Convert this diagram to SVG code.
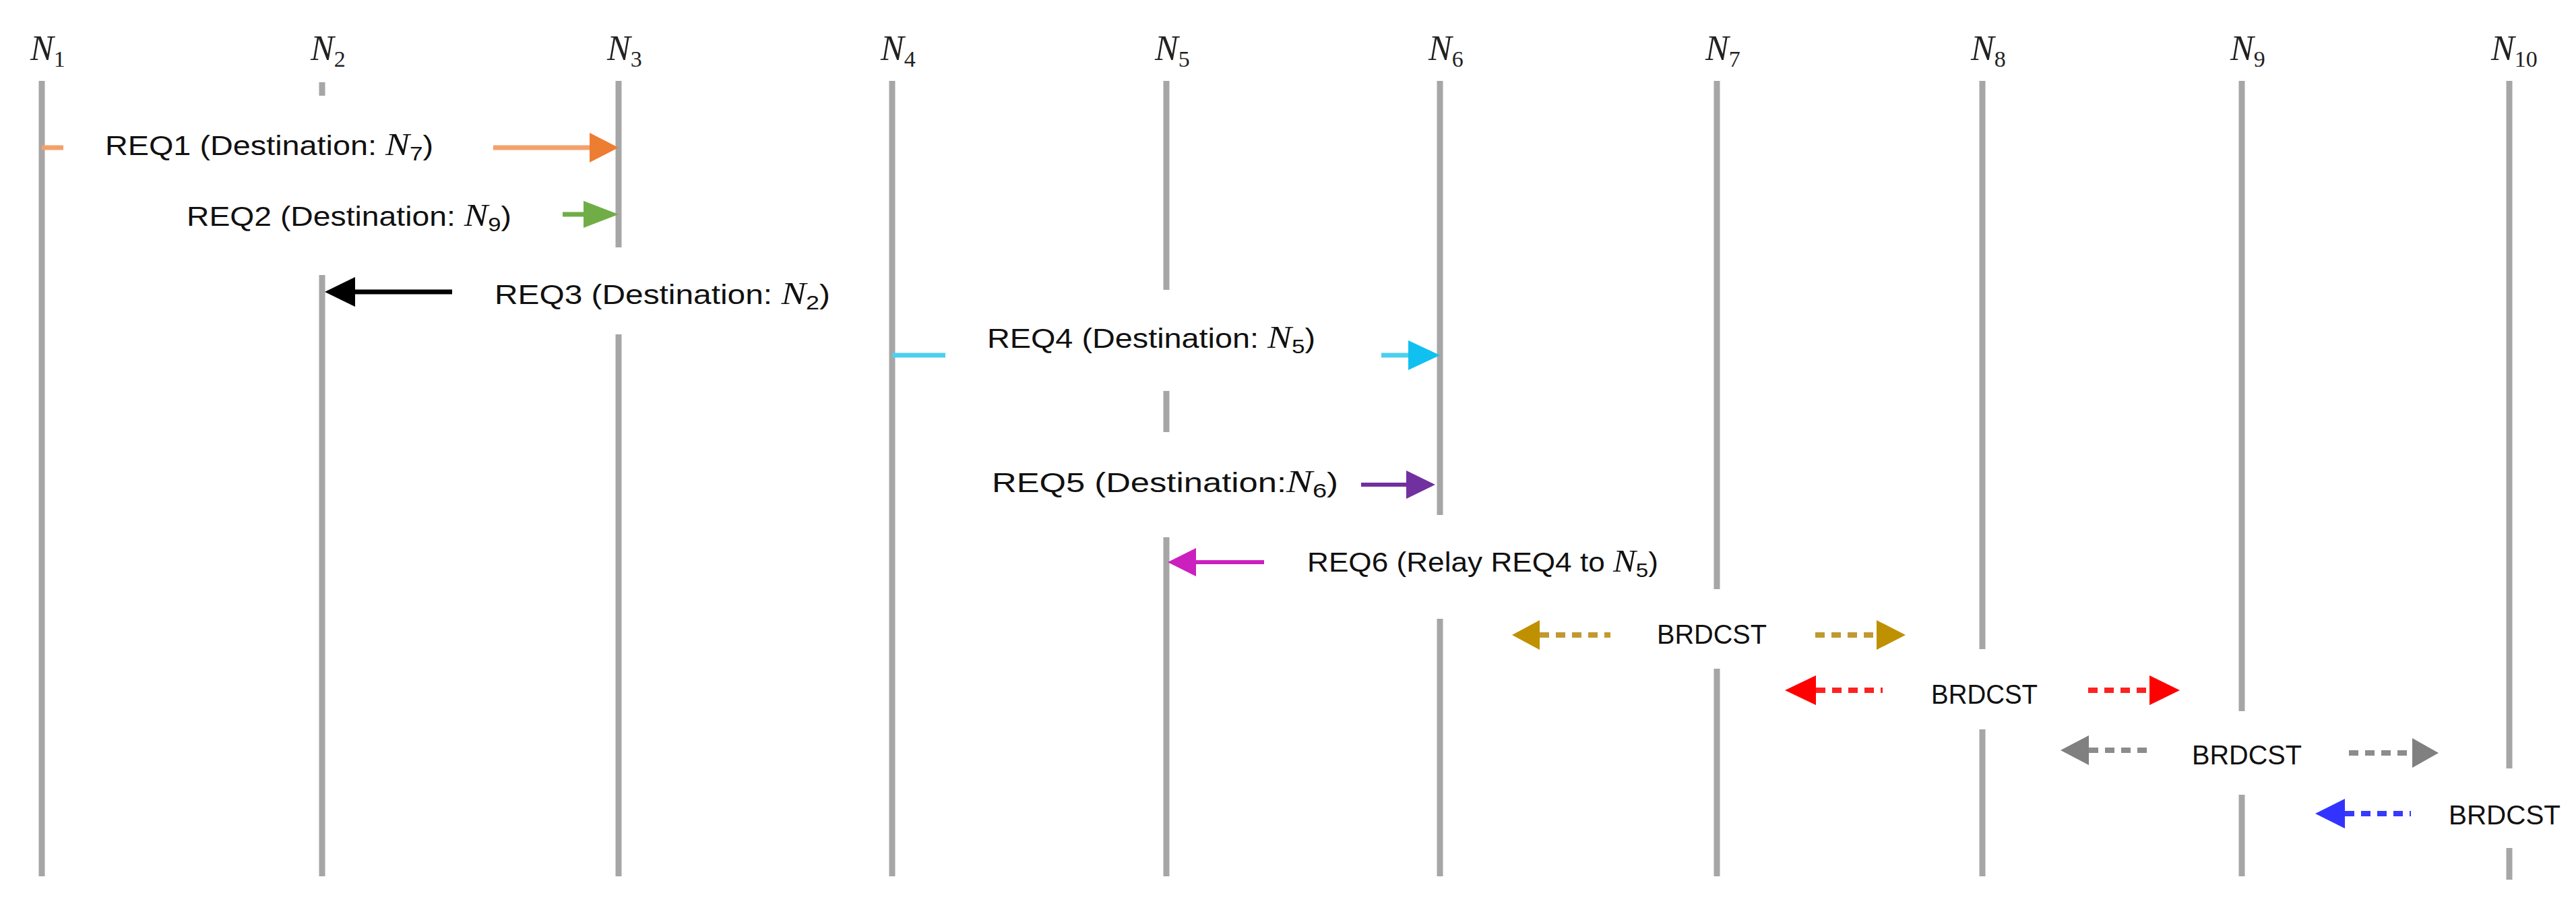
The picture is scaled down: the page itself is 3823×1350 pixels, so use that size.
<svg xmlns="http://www.w3.org/2000/svg" width="3823" height="1350" viewBox="0 0 3823 1350">
<style>
.lane{stroke:#A6A6A6;stroke-width:9;fill:none}
.t{font-family:"Liberation Sans",Arial,sans-serif;font-size:40px;fill:#111}
.n{font-family:"Liberation Serif","Times New Roman",serif;font-style:italic;font-size:46px}
.h{font-family:"Liberation Serif","Times New Roman",serif;font-style:italic;font-size:52px;fill:#222}
.s{font-size:30px}
.hs{font-size:34px;font-style:normal}
.dash{stroke-width:8;stroke-dasharray:14 10;fill:none}
</style>
<rect width="3823" height="1350" fill="#fff"/>
<g id="N1"><text class="h" x="45" y="89">N<tspan class="hs" dy="10">1</tspan></text><path class="lane" d="M62 120V1300"/></g>
<g id="N2"><text class="h" x="461" y="89">N<tspan class="hs" dy="10">2</tspan></text><path class="lane" d="M478 122V142M478 408V1300"/></g>
<g id="N3"><text class="h" x="901" y="89">N<tspan class="hs" dy="10">3</tspan></text><path class="lane" d="M918 120V367M918 496V1300"/></g>
<g id="N4"><text class="h" x="1307" y="89">N<tspan class="hs" dy="10">4</tspan></text><path class="lane" d="M1324 120V1300"/></g>
<g id="N5"><text class="h" x="1714" y="89">N<tspan class="hs" dy="10">5</tspan></text><path class="lane" d="M1731 120V430M1731 580V641M1731 797V1300"/></g>
<g id="N6"><text class="h" x="2120" y="89">N<tspan class="hs" dy="10">6</tspan></text><path class="lane" d="M2137 120V764M2137 918V1300"/></g>
<g id="N7"><text class="h" x="2531" y="89">N<tspan class="hs" dy="10">7</tspan></text><path class="lane" d="M2548 120V874M2548 992V1300"/></g>
<g id="N8"><text class="h" x="2925" y="89">N<tspan class="hs" dy="10">8</tspan></text><path class="lane" d="M2942 120V963M2942 1082V1300"/></g>
<g id="N9"><text class="h" x="3310" y="89">N<tspan class="hs" dy="10">9</tspan></text><path class="lane" d="M3327 120V1055M3327 1179V1300"/></g>
<g id="N10"><text class="h" x="3697" y="89">N<tspan class="hs" dy="10">10</tspan></text><path class="lane" d="M3724 120V1140M3724 1258V1305"/></g>
<g id="connectors">
<path d="M62 219H94M732 219H880" stroke="#F4A06A" stroke-width="7"/><polygon points="875,197 918,219 875,241" fill="#ED7D31"/>
<path d="M835 318H870" stroke="#70AD47" stroke-width="7"/><polygon points="866,298 918,318 866,338" fill="#70AD47"/>
<path d="M525 433H671" stroke="#000" stroke-width="7"/><polygon points="527,411 482,433 527,455" fill="#000"/>
<path d="M1324 527H1403M2050 527H2095" stroke="#4FCFF0" stroke-width="7"/><polygon points="2090,505 2137,527 2090,549" fill="#10C0F0"/>
<path d="M2020 719H2090" stroke="#7030A0" stroke-width="6"/><polygon points="2087,698 2130,719 2087,740" fill="#7030A0"/>
<path d="M1770 834H1876" stroke="#CC1FBF" stroke-width="6"/><polygon points="1775,813 1733,834 1775,855" fill="#CC1FBF"/>
<path class="dash" d="M2285 942H2390M2694 942H2790" stroke="#C09A30"/><polygon points="2285,920 2244,942 2285,964" fill="#BF9000"/><polygon points="2785,920 2828,942 2785,964" fill="#BF9000"/>
<path class="dash" d="M2695 1024H2794M3099 1024H3195" stroke="#FF2020"/><polygon points="2695,1002 2649,1024 2695,1046" fill="#FF0000"/><polygon points="3190,1002 3235,1024 3190,1046" fill="#FF0000"/>
<path class="dash" d="M3100 1113H3192M3486 1117H3585" stroke="#8C8C8C"/><polygon points="3100,1091 3058,1113 3100,1135" fill="#808080"/><polygon points="3580,1095 3619,1117 3580,1139" fill="#808080"/>
<path class="dash" d="M3480 1207H3578" stroke="#3838FF"/><polygon points="3480,1185 3436,1207 3480,1229" fill="#3333FF"/>
</g>
<g id="labels">
<text class="t" x="156" y="230" textLength="487" lengthAdjust="spacingAndGlyphs">REQ1 (Destination: <tspan class="n">N</tspan><tspan class="s" dy="8">7</tspan><tspan dy="-8">)</tspan></text>
<text class="t" x="277" y="335" textLength="482" lengthAdjust="spacingAndGlyphs">REQ2 (Destination: <tspan class="n">N</tspan><tspan class="s" dy="8">9</tspan><tspan dy="-8">)</tspan></text>
<text class="t" x="734" y="451" textLength="498" lengthAdjust="spacingAndGlyphs">REQ3 (Destination:  <tspan class="n">N</tspan><tspan class="s" dy="8">2</tspan><tspan dy="-8">)</tspan></text>
<text class="t" x="1465" y="516" textLength="487" lengthAdjust="spacingAndGlyphs">REQ4 (Destination: <tspan class="n">N</tspan><tspan class="s" dy="8">5</tspan><tspan dy="-8">)</tspan></text>
<text class="t" x="1472" y="730" textLength="514" lengthAdjust="spacingAndGlyphs">REQ5 (Destination:<tspan class="n">N</tspan><tspan class="s" dy="8">6</tspan><tspan dy="-8">)</tspan></text>
<text class="t" x="1940" y="848" textLength="521" lengthAdjust="spacingAndGlyphs">REQ6 (Relay REQ4 to <tspan class="n">N</tspan><tspan class="s" dy="8">5</tspan><tspan dy="-8">)</tspan></text>
<text class="t" x="2459" y="955" textLength="163" lengthAdjust="spacingAndGlyphs">BRDCST</text>
<text class="t" x="2866" y="1044" textLength="158" lengthAdjust="spacingAndGlyphs">BRDCST</text>
<text class="t" x="3253" y="1134" textLength="163" lengthAdjust="spacingAndGlyphs">BRDCST</text>
<text class="t" x="3634" y="1223" textLength="166" lengthAdjust="spacingAndGlyphs">BRDCST</text>
</g>
</svg>
